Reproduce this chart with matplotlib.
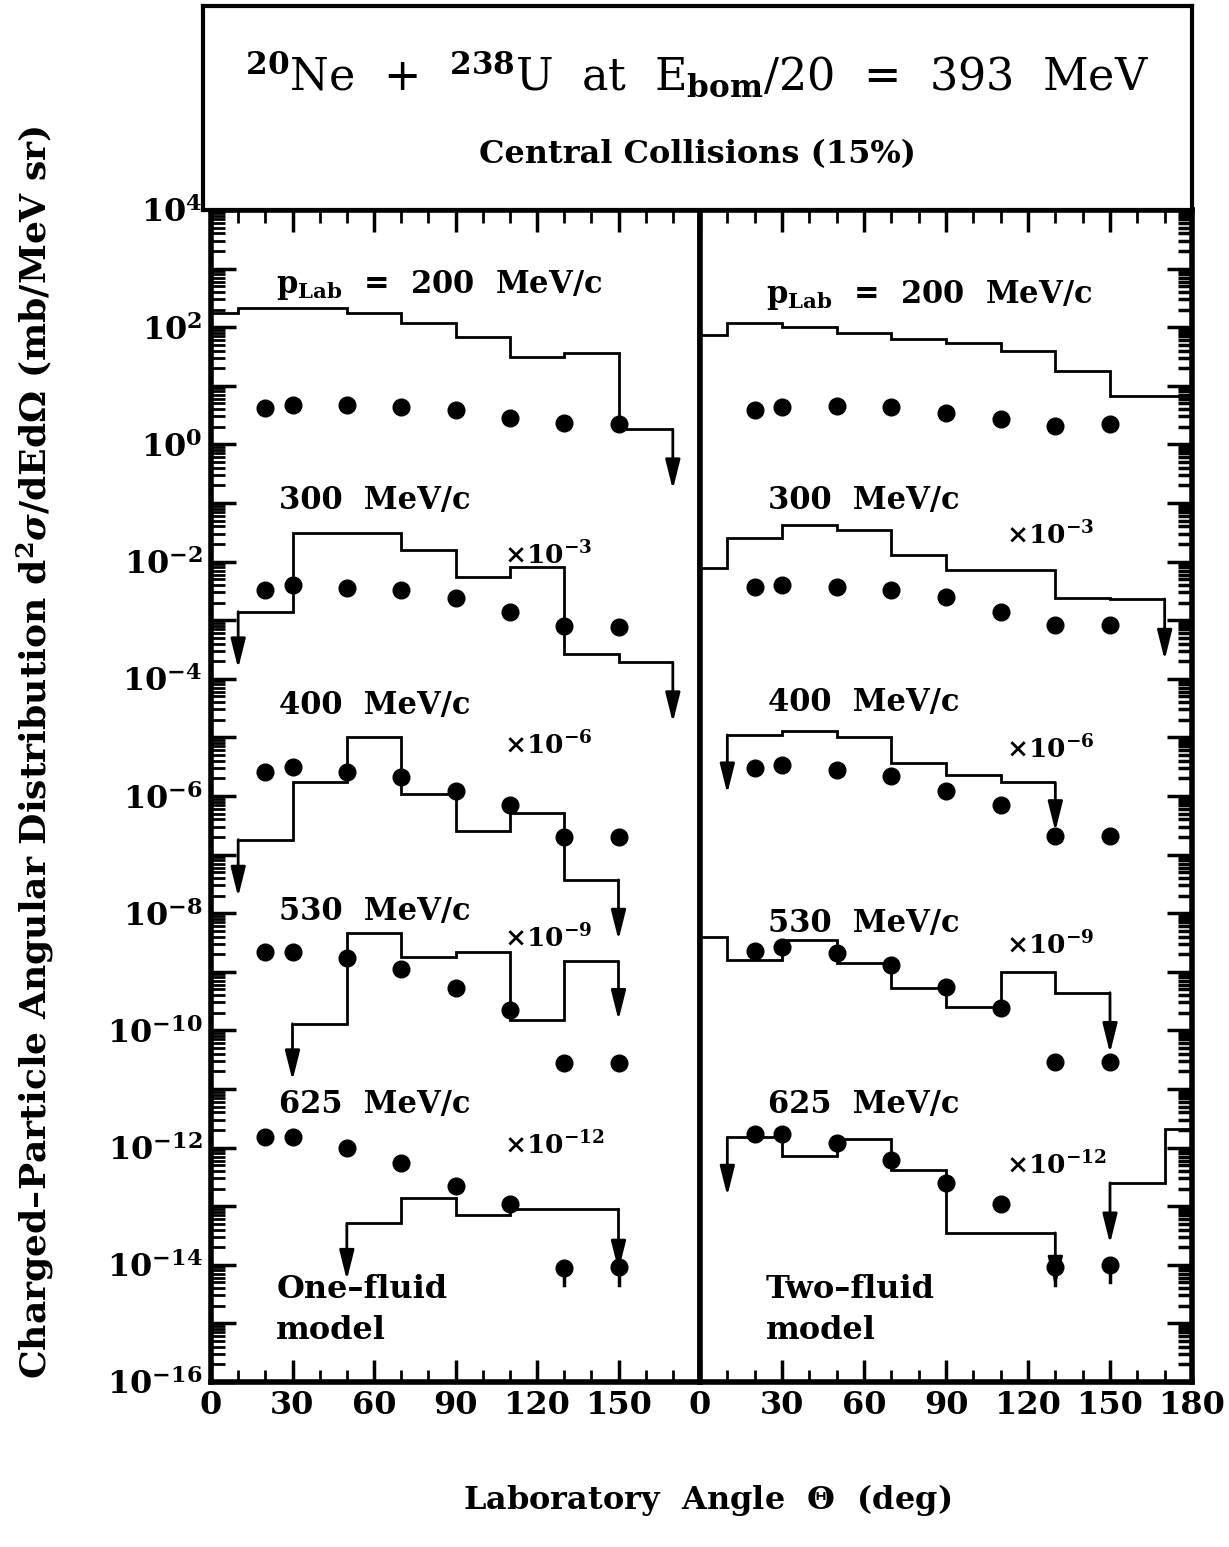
import matplotlib
matplotlib.use('Agg')
import matplotlib.pyplot as plt
import numpy as np
from matplotlib.ticker import LogLocator, MultipleLocator, FuncFormatter, NullFormatter

plt.rcParams['font.family'] = ['DejaVu Serif']
plt.rcParams['font.weight'] = 'bold'
plt.rcParams['mathtext.fontset'] = 'custom'
plt.rcParams['mathtext.rm'] = 'DejaVu Serif:bold'
plt.rcParams['mathtext.it'] = 'DejaVu Serif:italic:bold'
plt.rcParams['mathtext.bf'] = 'DejaVu Serif:bold'

nan = np.nan

# measured angles (deg) and model bin edges (deg)
angles = [20, 30, 50, 70, 90, 110, 130, 150]
edges = [0, 10, 30, 50, 70, 90, 110, 130, 150, 170, 180]

# data points (already multiplied by the factor written next to each set)
one_200_pts = [4.2, 4.7, 4.7, 4.4, 3.9, 2.8, 2.3, 2.2]
one_300_pts = [3.3e-3, 4.0e-3, 3.5e-3, 3.3e-3, 2.4e-3, 1.4e-3, 7.9e-4, 7.6e-4]
one_400_pts = [2.6e-6, 3.1e-6, 2.6e-6, 2.1e-6, 1.2e-6, 7.1e-7, 2.0e-7, 2.0e-7]
one_530_pts = [2.2e-9, 2.2e-9, 1.7e-9, 1.1e-9, 5.2e-10, 2.2e-10, 2.8e-11, 2.8e-11]
one_625_pts = [1.5e-12, 1.5e-12, 1.0e-12, 5.5e-13, 2.2e-13, 1.1e-13, 8.9e-15, 9.1e-15]

two_200_pts = [3.9, 4.4, 4.6, 4.4, 3.5, 2.7, 2.1, 2.2]
two_300_pts = [3.7e-3, 4.0e-3, 3.7e-3, 3.3e-3, 2.5e-3, 1.4e-3, 8.3e-4, 8.3e-4]
two_400_pts = [3.0e-6, 3.4e-6, 2.8e-6, 2.2e-6, 1.2e-6, 7.1e-7, 2.1e-7, 2.1e-7]
two_530_pts = [2.3e-9, 2.6e-9, 2.1e-9, 1.3e-9, 5.5e-10, 2.4e-10, 2.9e-11, 2.9e-11]
two_625_pts = [1.7e-12, 1.7e-12, 1.2e-12, 6.2e-13, 2.5e-13, 1.1e-13, 9.1e-15, 1.0e-14]

# model histograms, one value per bin of `edges` (nan = not drawn)
one_200_hist = [174, 214, 214, 174, 117, 68, 31, 36, 1.8, nan]
one_300_hist = [nan, 1.4e-3, 3.1e-2, 3.1e-2, 1.6e-2, 5.5e-3, 8.1e-3, 2.6e-4, 1.9e-4, nan]
one_400_hist = [nan, 1.8e-7, 1.7e-6, 1.0e-5, 1.1e-6, 2.5e-7, 5.1e-7, 3.7e-8, nan, nan]
one_530_hist = [nan, nan, 1.3e-10, 4.6e-9, 1.8e-9, 2.2e-9, 1.5e-10, 1.5e-9, nan, nan]
one_625_hist = [nan, nan, nan, 5.1e-14, 1.4e-13, 7.1e-14, 8.9e-14, 8.9e-14, nan, nan]

two_200_hist = [74, 117, 100, 79, 63, 54, 39, 18, 6.8, 6.8]
two_300_hist = [7.8e-3, 2.5e-2, 4.2e-2, 3.5e-2, 1.3e-2, 7.2e-3, 7.2e-3, 2.4e-3, 2.3e-3, nan]
two_400_hist = [nan, 1.1e-5, 1.3e-5, 1.0e-5, 3.6e-6, 2.3e-6, 1.7e-6, nan, nan, nan]
two_530_hist = [3.9e-9, 1.6e-9, 3.5e-9, 1.4e-9, 5.2e-10, 2.5e-10, 1.0e-9, 4.4e-10, nan, nan]
two_625_hist = [nan, 1.5e-12, 7.2e-13, 1.4e-12, 4.2e-13, 3.5e-14, 3.5e-14, nan, 2.5e-13, 2.1e-12]

# downward arrows: (angle, from, to)
one_arrows = [(170, 1.8, 0.17),
              (10, 1.4e-3, 1.5e-4), (170, 1.9e-4, 1.8e-5),
              (10, 1.8e-7, 1.9e-8), (150, 3.7e-8, 3.5e-9),
              (30, 1.3e-10, 1.4e-11), (150, 1.5e-9, 1.5e-10),
              (50, 5.1e-14, 5.5e-15), (150, 8.9e-14, 7.9e-15)]
two_arrows = [(170, 2.3e-3, 2.1e-4),
              (10, 1.1e-5, 1.1e-6), (130, 1.7e-6, 2.5e-7),
              (150, 4.4e-10, 4.1e-11),
              (10, 1.5e-12, 1.5e-13), (130, 3.5e-14, 4.2e-15), (150, 2.5e-13, 2.3e-14)]

# data points drawn with a short tail below
tail_pts = [(130, 8.9e-15), (150, 9.1e-15)]
tail_pts_two = [(130, 9.1e-15), (150, 1.0e-14)]

labels = [r'p$_{\mathrm{Lab}}$  =  200  MeV/c', '300  MeV/c', '400  MeV/c', '530  MeV/c', '625  MeV/c']
factors = ['', r'$\times$10$^{-3}$', r'$\times$10$^{-6}$', r'$\times$10$^{-9}$', r'$\times$10$^{-12}$']

W, H = 1229, 1547
fig = plt.figure(figsize=(W / 100, H / 100), dpi=100)
bot = 1 - 1382 / H
hgt = (1382 - 210) / H
ax1 = fig.add_axes([211 / W, bot, 489 / W, hgt])
ax2 = fig.add_axes([700 / W, bot, 492 / W, hgt], sharey=ax1)
box = fig.add_axes([203 / W, 1 - 210 / H, 989 / W, 204 / H])

for s in box.spines.values():
    s.set_linewidth(3)
box.set_xticks([])
box.set_yticks([])
box.text(0.5, 0.66, r'$^{20}$Ne  +  $^{238}$U  at  E$_{\mathrm{bom}}$/20  =  393  MeV',
         ha='center', va='center', fontsize=32, fontweight='normal', transform=box.transAxes)
box.text(0.5, 0.27, 'Central Collisions (15%)', ha='center', va='center',
         fontsize=23, transform=box.transAxes)

one_pts = [one_200_pts, one_300_pts, one_400_pts, one_530_pts, one_625_pts]
two_pts = [two_200_pts, two_300_pts, two_400_pts, two_530_pts, two_625_pts]
one_hist = [one_200_hist, one_300_hist, one_400_hist, one_530_hist, one_625_hist]
two_hist = [two_200_hist, two_300_hist, two_400_hist, two_530_hist, two_625_hist]

lab_y = [[5.2e2, 1.1e-1, 3.5e-5, 1.05e-8, 5.4e-12], [3.5e2, 1.1e-1, 3.9e-5, 6.8e-9, 5.4e-12]]
fac_y = [[None, 1.3e-2, 7.4e-6, 3.8e-9, 1.1e-12], [None, 2.8e-2, 6.3e-6, 2.9e-9, 5.0e-13]]

for k, (ax, pts, hists, arrows, tails, model) in enumerate([
        (ax1, one_pts, one_hist, one_arrows, tail_pts, 'One\u2013fluid\nmodel'),
        (ax2, two_pts, two_hist, two_arrows, tail_pts_two, 'Two\u2013fluid\nmodel')]):
    for p in pts:
        ax.plot(angles, p, 'o', color='black', markersize=12, zorder=3)
    for hv in hists:
        ax.stairs(hv, edges, baseline=None, color='black', lw=2.0, zorder=2)
    for a, y0, y1 in arrows:
        ax.annotate('', xy=(a, y1), xytext=(a, y0),
                    arrowprops=dict(arrowstyle='-|>,head_length=1.8,head_width=0.45',
                                    lw=2.0, color='black', shrinkA=0, shrinkB=0))
    for a, v in tails:
        ax.plot([a, a], [v, v * 0.5], color='black', lw=2.5, zorder=3)

    x0 = 24
    for i, lab in enumerate(labels):
        ax.text(x0 if i == 0 else x0 + 1, lab_y[k][i], lab, fontsize=22, va='center', ha='left')
        if factors[i]:
            ax.text(108 if k == 0 else 112, fac_y[k][i], factors[i], fontsize=19,
                    va='center', ha='left')
    ax.text(24, 1.7e-15, model, fontsize=23, va='center', ha='left', linespacing=1.4)

    ax.set_yscale('log')
    ax.set_xlim(0, 180)
    ax.set_ylim(1e-16, 1e4)
    ax.xaxis.set_major_locator(MultipleLocator(30))
    ax.xaxis.set_minor_locator(MultipleLocator(10))
    for s in ax.spines.values():
        s.set_linewidth(4)

ax1.yaxis.set_major_locator(LogLocator(base=10, numticks=40))
ax1.yaxis.set_minor_locator(LogLocator(base=10, subs=np.arange(2, 10), numticks=40))
ax1.yaxis.set_minor_formatter(NullFormatter())


def ylab(v, pos):
    e = int(round(np.log10(v)))
    return r'10$^{%d}$' % e if e % 2 == 0 else ''


ax1.yaxis.set_major_formatter(FuncFormatter(ylab))
ax1.xaxis.set_major_formatter(FuncFormatter(lambda v, p: '' if v > 170 else '%d' % v))
ax2.xaxis.set_major_formatter(FuncFormatter(lambda v, p: '%d' % v))

ax1.tick_params(axis='y', which='major', direction='in', length=18, width=2.5,
                left=True, right=False, labelsize=23, pad=6)
ax1.tick_params(axis='y', which='minor', direction='in', length=10, width=2,
                left=True, right=False)
ax2.tick_params(axis='y', which='both', direction='in', left=False, right=True,
                labelleft=False, width=2.5)
ax2.tick_params(axis='y', which='major', length=18)
ax2.tick_params(axis='y', which='minor', length=10)
for ax in (ax1, ax2):
    ax.tick_params(axis='x', which='major', direction='in', length=16, width=2.5,
                   top=True, bottom=True, labelsize=23, pad=6)
    ax.tick_params(axis='x', which='minor', direction='in', length=9, width=2,
                   top=True, bottom=True)

fig.text(35 / W, 1 - 752 / H, 'Charged\u2013Particle Angular Distribution d$^2\\sigma$/dEd$\\Omega$ (mb/MeV sr)',
         rotation=90, ha='center', va='center', fontsize=26)
fig.text(707 / W, 1 - 1500 / H, r'Laboratory  Angle  $\mathit{\Theta}$  (deg)',
         ha='center', va='center', fontsize=23)

fig.savefig('out.png', dpi=100)
